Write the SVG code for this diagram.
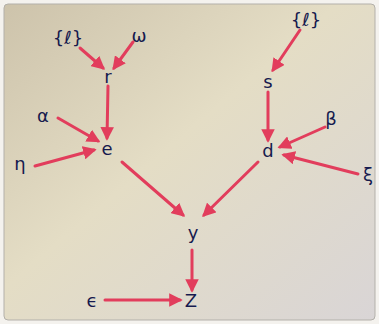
<svg xmlns="http://www.w3.org/2000/svg" width="379" height="324" viewBox="0 0 379 324">
<defs>
<linearGradient id="bg" x1="0" y1="0" x2="1" y2="1">
<stop offset="0" stop-color="#cdc3ab"/>
<stop offset="0.45" stop-color="#e4ddc5"/>
<stop offset="1" stop-color="#d9d5d6"/>
</linearGradient>
<marker id="ah" viewBox="0 0 10 10" refX="8" refY="5" markerWidth="4.5" markerHeight="4.5" orient="auto" markerUnits="strokeWidth">
<path d="M0,0 L10,5 L0,10 z" fill="#e23d5c"/>
</marker>
<style>
.lbl{font-family:"DejaVu Sans",sans-serif;font-size:18px;fill:#161a4e;text-anchor:middle;dominant-baseline:central}
.e{stroke:#e23d5c;stroke-width:3;fill:none;marker-end:url(#ah);stroke-linecap:round}
</style>
</defs>
<rect x="0" y="0" width="379" height="324" fill="#f4f2ee"/>
<rect x="4" y="4" width="371" height="316" rx="4" fill="url(#bg)" stroke="#b3b0aa" stroke-width="1"/>
<g id="connectors">
<line class="e" x1="80" y1="48" x2="103" y2="68"/>
<line class="e" x1="133" y1="42" x2="114" y2="68"/>
<line class="e" x1="108" y1="86" x2="107" y2="138"/>
<line class="e" x1="58" y1="118" x2="98" y2="141"/>
<line class="e" x1="35" y1="166" x2="94" y2="150"/>
<line class="e" x1="122" y1="162" x2="183" y2="215"/>
<line class="e" x1="268" y1="92" x2="268" y2="140"/>
<line class="e" x1="300" y1="30" x2="273" y2="70"/>
<line class="e" x1="325" y1="127" x2="280" y2="147"/>
<line class="e" x1="358" y1="174" x2="284" y2="155"/>
<line class="e" x1="258" y1="162" x2="204" y2="215"/>
<line class="e" x1="192" y1="250" x2="192" y2="290"/>
<line class="e" x1="105" y1="300" x2="180" y2="300"/>
</g>
<g id="n_l1"><text class="lbl" x="68" y="37" font-size="14">{ℓ}</text></g>
<g id="n_omega"><text class="lbl" x="139" y="35">ω</text></g>
<g id="n_r"><text class="lbl" x="108" y="76">r</text></g>
<g id="n_alpha"><text class="lbl" x="43" y="115">α</text></g>
<g id="n_eta"><text class="lbl" x="20" y="163">η</text></g>
<g id="n_e"><text class="lbl" x="107" y="148">e</text></g>
<g id="n_l2"><text class="lbl" x="306" y="19" font-size="14">{ℓ}</text></g>
<g id="n_s"><text class="lbl" x="268" y="81">s</text></g>
<g id="n_beta"><text class="lbl" x="331" y="118">β</text></g>
<g id="n_d"><text class="lbl" x="268" y="150">d</text></g>
<g id="n_xi"><text class="lbl" x="368" y="174">ξ</text></g>
<g id="n_y"><text class="lbl" x="193" y="232">y</text></g>
<g id="n_z"><text class="lbl" x="191" y="300">Z</text></g>
<g id="n_eps"><text class="lbl" x="92" y="300">ϵ</text></g>
</svg>
